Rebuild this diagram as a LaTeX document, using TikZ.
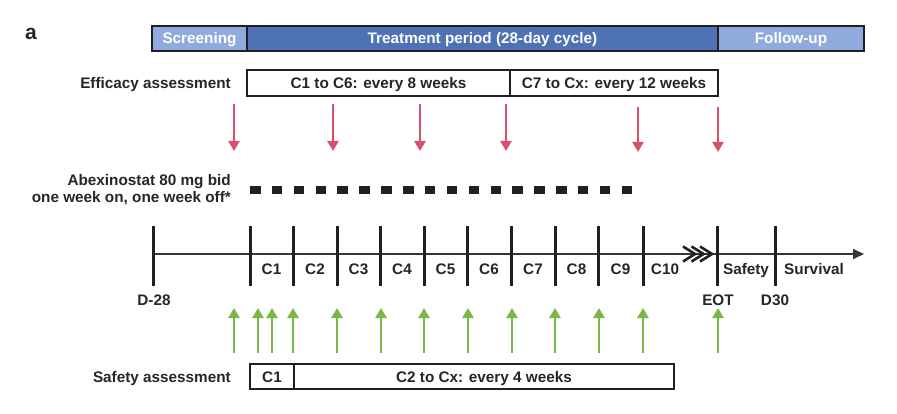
\documentclass[tikz,border=0pt]{standalone}
\usepackage{fontspec}
\setmainfont{Liberation Sans}
\usetikzlibrary{arrows.meta}
\definecolor{ink}{HTML}{231F20}
\definecolor{txt}{HTML}{262626}
\definecolor{lightblue}{HTML}{8FAADC}
\definecolor{darkblue}{HTML}{4F71B5}
\definecolor{effred}{HTML}{D9506A}
\definecolor{safgreen}{HTML}{7AB648}
\begin{document}
\begin{tikzpicture}[x=1pt,y=-1pt,
  every node/.style={font=\fontsize{15.3}{17}\selectfont\bfseries, text=txt},
  phase/.style={draw=ink, line width=2pt, minimum height=25pt, inner sep=0pt, outer sep=0pt,
    text height=11pt, text depth=0pt, text=white, anchor=west},
  box/.style={draw=ink, line width=2pt, minimum height=25.5pt, inner sep=0pt, outer sep=0pt,
    text height=11pt, text depth=0pt, anchor=west, fill=white},
  lab/.style={anchor=base east, inner sep=0pt},
  clab/.style={anchor=base, inner sep=0pt},
  dose/.style={fill=ink, minimum width=10.5pt, minimum height=8.5pt, inner sep=0pt},
  tick/.style={draw=ink, line width=3pt},
  effarrow/.style={draw=effred, line width=2.7pt, -{Triangle[width=11pt,length=10pt]}},
  safarrow/.style={draw=safgreen, line width=2.7pt, -{Triangle[width=11pt,length=10pt]}}]
\useasboundingbox (0,0) rectangle (897,414);
\fill[white] (0,0) rectangle (897,414);

% panel letter
\node[anchor=base west, inner sep=0pt, font=\fontsize{21}{24}\selectfont\bfseries] (panel) at (25,39.5) {a};

% phase bar
\node[phase, fill=lightblue, minimum width=95pt] (scr) at (152,38.5) {Screening};
\node[phase, fill=darkblue, minimum width=471pt] (trt) at (247,38.5) {Treatment period (28-day cycle)};
\node[phase, fill=lightblue, minimum width=146pt] (fu) at (718,38.5) {Follow-up};

% efficacy
\node[lab] (efflab) at (231,89) {Efficacy assessment};
\node[box, minimum width=263pt] (eff1) at (247,83) {C1 to C6: every 8 weeks};
\node[box, minimum width=208pt] (eff2) at (510,83) {C7 to Cx: every 12 weeks};

\foreach \i/\x/\a/\b in {1/234/104/151, 2/333/104/151, 3/420/104/151, 4/506/104/151, 5/638/107/152, 6/718/107/152}{
  \coordinate (ea\i) at (\x,\a);
  \coordinate (eb\i) at (\x,\b);
  \draw[effarrow] (ea\i) -- (eb\i);
}

% dosing
\node[lab] (abx1) at (231,186) {Abexinostat 80 mg bid};
\node[lab] (abx2) at (231,203) {one week on, one week off*};
\foreach \i in {0,...,17}
  \node[dose] (dose\i) at ({255.3+\i*21.86},189.8) {};

% timeline
\coordinate (tlstart) at (153,254);
\coordinate (tlend) at (864,254);
\draw[draw=ink!90, line width=1.8pt, -{Triangle[width=10pt,length=11pt]}] (tlstart) -- (tlend);
\foreach \n/\x in {d/153, c1/250, c2/293, c3/337, c4/380, c5/424, c6/467, c7/511, c8/555, c9/598, c10/643, eot/717, dt/775}{
  \coordinate (tk\n) at (\x,254);
  \draw[tick] ([yshift=28pt]tk\n) -- ([yshift=-32pt]tk\n);
}
\foreach \k in {0,1,2}
  \draw[ink, line width=2.6pt] ({683+8.5*\k},246.5) -- ({695+8.5*\k},254) -- ({683+8.5*\k},261.5);

\foreach \n/\x/\t in {l1/271.5/C1, l2/315/C2, l3/358.5/C3, l4/402/C4, l5/445.5/C5, l6/489/C6, l7/533/C7, l8/576.5/C8, l9/620.5/C9, l10/665/C10, lsf/746/Safety, lsv/814/Survival}
  \node[clab] (\n) at (\x,274) {\t};

\node[clab] (dm28) at (154,305) {D-28};
\node[clab] (eot) at (718,305) {EOT};
\node[clab] (d30) at (775,305) {D30};

% safety
\foreach \i/\x in {1/234, 2/258, 3/272, 4/293, 5/337, 6/381, 7/424, 8/468, 9/512, 10/555, 11/599, 12/643, 13/718}{
  \coordinate (sa\i) at (\x,353);
  \coordinate (sb\i) at (\x,308);
  \draw[safarrow] (sa\i) -- (sb\i);
}
\node[lab] (saflab) at (231,382) {Safety assessment};
\node[box, minimum width=44pt] (saf1) at (250,376.5) {C1};
\node[box, minimum width=380pt] (saf2) at (294,376.5) {C2 to Cx: every 4 weeks};
\end{tikzpicture}
\end{document}
